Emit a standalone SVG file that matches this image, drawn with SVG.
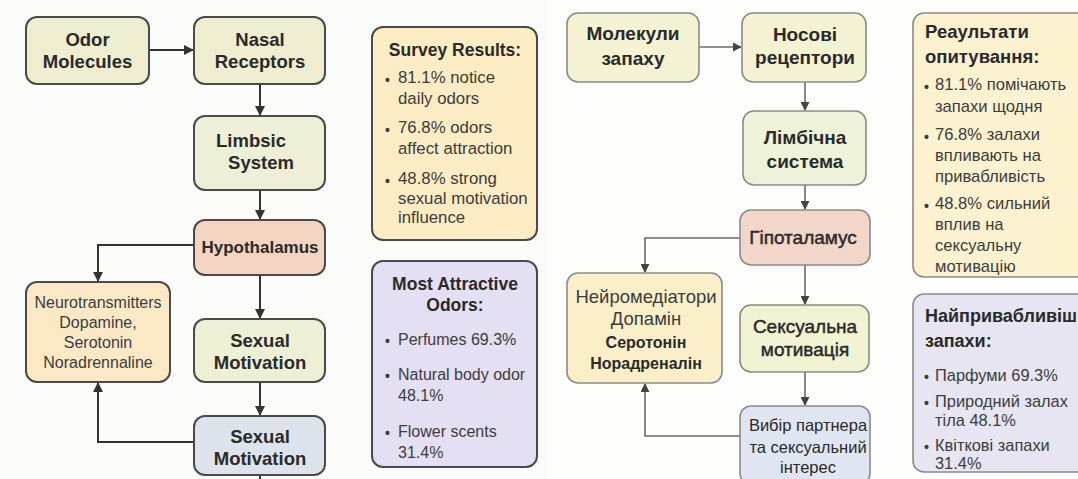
<svg xmlns="http://www.w3.org/2000/svg" width="1078" height="479" viewBox="0 0 1078 479">
<defs>
<marker id="ah" viewBox="0 0 10 10" refX="9" refY="5" markerWidth="10" markerHeight="10" markerUnits="userSpaceOnUse" orient="auto"><path d="M0,0 L10,5 L0,10 z" fill="#333"/></marker>
<marker id="ah2" viewBox="0 0 10 10" refX="9" refY="5" markerWidth="9" markerHeight="9" markerUnits="userSpaceOnUse" orient="auto"><path d="M0,0 L10,5 L0,10 z" fill="#444"/></marker>
<style>
.n{stroke:#4a4a4a;stroke-width:2}
.m{stroke:#8a8a8a;stroke-width:1.6}
.t{font-family:"Liberation Sans",Arial,sans-serif;fill:#2a2a2a}
.b{font-weight:700}
.c{text-anchor:middle}
.md{stroke:#2a2a2a;stroke-width:0.45}
.g{fill:#3c3c3c}
.d{font-size:14px;font-weight:700}
.l1{fill:none;stroke:#333;stroke-width:2;marker-end:url(#ah)}
.l2{fill:none;stroke:#6a6a6a;stroke-width:1.6;marker-end:url(#ah2)}
</style>
</defs>
<rect width="1078" height="479" fill="#fbfbf9"/>
<rect x="545" width="533" height="479" fill="#fdfdfc"/>

<g id="connectors">
<path class="l1" d="M149,50 H193"/>
<path class="l1" d="M260,84 V115"/>
<path class="l1" d="M260,190 V219"/>
<path class="l1" d="M194,245 H98 V281"/>
<path class="l1" d="M260,275 V318"/>
<path class="l1" d="M260,382 V415"/>
<path class="l1" d="M194,442 H98 V383"/>
<path d="M260,475 V479" stroke="#333" stroke-width="2"/>
<path class="l2" d="M699,47 H741"/>
<path class="l2" d="M805,82 V110"/>
<path class="l2" d="M805,185 V209"/>
<path class="l2" d="M740,238 H645 V272"/>
<path class="l2" d="M805,265 V304"/>
<path class="l2" d="M805,372 V405"/>
<path class="l2" d="M740,436 H645 V384"/>
</g>

<g id="odor-molecules">
<rect class="n" x="26" y="17" width="123" height="67" rx="11" fill="#eeedcf"/>
<text class="t b c" x="87.5" y="46" font-size="18.5">Odor</text>
<text class="t b c" x="87.5" y="68" font-size="18.5">Molecules</text>
</g>
<g id="nasal-receptors">
<rect class="n" x="194" y="17" width="131" height="67" rx="11" fill="#eeedcf"/>
<text class="t b c" x="260" y="46" font-size="18.5">Nasal</text>
<text class="t b c" x="260" y="68" font-size="18.5">Receptors</text>
</g>
<g id="limbsic-system">
<rect class="n" x="194" y="116" width="131" height="74" rx="11" fill="#edf0d6"/>
<text class="t b c" x="251" y="147" font-size="18.5">Limbsic</text>
<text class="t b c" x="261" y="169" font-size="18.5">System</text>
</g>
<g id="hypothalamus">
<rect class="n" x="194" y="220" width="131" height="55" rx="11" fill="#f2d4c1"/>
<text class="t b c" x="260" y="253" font-size="17">Hypothalamus</text>
</g>
<g id="neurotransmitters">
<rect class="n" x="26" y="282" width="144" height="100" rx="11" fill="#fbe9c6"/>
<text class="t g c" x="98" y="308" font-size="16">Neurotransmitters</text>
<text class="t g c" x="98" y="328" font-size="16">Dopamine,</text>
<text class="t g c" x="98" y="348" font-size="16">Serotonin</text>
<text class="t g c" x="98" y="368" font-size="16">Noradrennaline</text>
</g>
<g id="sexual-motivation">
<rect class="n" x="194" y="319" width="131" height="63" rx="11" fill="#eef0d5"/>
<text class="t b c" x="260" y="347" font-size="18.5">Sexual</text>
<text class="t b c" x="260" y="369" font-size="18.5">Motivation</text>
</g>
<g id="sexual-motivation-2">
<rect class="n" x="194" y="416" width="131" height="59" rx="11" fill="#dde3ea"/>
<text class="t b c" x="260" y="443" font-size="18.5">Sexual</text>
<text class="t b c" x="260" y="465" font-size="18.5">Motivation</text>
</g>
<g id="survey-results">
<rect class="n" x="372" y="27" width="165" height="213" rx="11" fill="#fbecc3"/>
<text class="t b c" x="455" y="56" font-size="17.5">Survey Results:</text>
<g class="t g" font-size="16.8">
<text class="d" x="385" y="85">•</text><text x="398" y="83">81.1% notice</text>
<text x="398" y="104">daily odors</text>
<text class="d" x="385" y="135">•</text><text x="398" y="133">76.8% odors</text>
<text x="398" y="154">affect attraction</text>
<text class="d" x="385" y="186">•</text><text x="398" y="184">48.8% strong</text>
<text x="398" y="204">sexual motivation</text>
<text x="398" y="223">influence</text>
</g>
</g>
<g id="most-attractive-odors">
<rect class="n" x="372" y="261" width="165" height="206" rx="11" fill="#e4dff3"/>
<text class="t b c" x="455" y="290" font-size="17.5">Most Attractive</text>
<text class="t b c" x="455" y="311" font-size="17.5">Odors:</text>
<g class="t g" font-size="16">
<text class="d" x="385" y="346">•</text><text x="398" y="345">Perfumes 69.3%</text>
<text class="d" x="385" y="381">•</text><text x="398" y="380">Natural body odor</text>
<text x="398" y="401">48.1%</text>
<text class="d" x="385" y="438">•</text><text x="398" y="437">Flower scents</text>
<text x="398" y="458">31.4%</text>
</g>
</g>

<g id="molekuly-zapakhu">
<rect class="m" x="567" y="13" width="132" height="69" rx="11" fill="#f3f2d3"/>
<text class="t b c" x="633" y="40" font-size="19">Молекули</text>
<text class="t b c" x="633" y="65" font-size="19">запаху</text>
</g>
<g id="nosovi-retseptory">
<rect class="m" x="742" y="13" width="124" height="69" rx="11" fill="#f3f2d3"/>
<text class="t b c" x="805" y="41" font-size="19">Носові</text>
<text class="t b c" x="805" y="64" font-size="19">рецептори</text>
</g>
<g id="limbichna-systema">
<rect class="m" x="743" y="111" width="123" height="74" rx="11" fill="#eef2d8"/>
<text class="t b c" x="805" y="144" font-size="19">Лімбічна</text>
<text class="t b c" x="805" y="168" font-size="19">система</text>
</g>
<g id="hipotalamus">
<rect class="m" x="740" y="210" width="130" height="55" rx="11" fill="#f1d6c9"/>
<text class="t md c" x="803" y="244" font-size="19">Гіпоталамус</text>
</g>
<g id="neiromediatory">
<rect class="m" x="567" y="273" width="155" height="110" rx="11" fill="#fbefc9"/>
<text class="t g c" x="646" y="303" font-size="18.5">Нейромедіатори</text>
<text class="t g c" x="646" y="325" font-size="18.5">Допамін</text>
<text class="t b c" x="646" y="348" font-size="16">Серотонін</text>
<text class="t b c" x="646" y="369" font-size="16">Норадреналін</text>
</g>
<g id="seksualna-motyvatsiia">
<rect class="m" x="740" y="305" width="129" height="67" rx="11" fill="#f2f3d2"/>
<text class="t md c" x="805" y="333" font-size="19">Сексуальна</text>
<text class="t md c" x="805" y="356" font-size="19">мотивація</text>
</g>
<g id="vybir-partnera">
<rect class="m" x="740" y="406" width="130" height="78" rx="11" fill="#dfe6f1"/>
<text class="t c" x="808" y="431" font-size="16.5">Вибір партнера</text>
<text class="t c" x="808" y="453" font-size="16.5">та сексуальний</text>
<text class="t c" x="808" y="473" font-size="16.5">інтерес</text>
</g>
<g id="rezultaty-opytuvannia">
<rect class="m" x="913" y="13" width="180" height="264" rx="11" fill="#fcf2cf"/>
<text class="t b" x="925" y="38" font-size="18.5">Реаультати</text>
<text class="t b" x="925" y="63" font-size="18.5">опитування:</text>
<g class="t g" font-size="16.6">
<text class="d" x="924" y="92">•</text><text x="935" y="90">81.1% помічають</text>
<text x="935" y="112">запахи щодня</text>
<text class="d" x="924" y="142">•</text><text x="935" y="140">76.8% залахи</text>
<text x="935" y="161">впливають на</text>
<text x="935" y="182">привабливість</text>
<text class="d" x="924" y="211">•</text><text x="935" y="209">48.8% сильний</text>
<text x="935" y="230">вплив на</text>
<text x="935" y="251">сексуальну</text>
<text x="935" y="272">мотивацію</text>
</g>
</g>
<g id="naiprivablyvishi-zapakhy">
<rect class="m" x="913" y="294" width="180" height="178" rx="11" fill="#e6e5f1"/>
<text class="t b" x="925" y="322" font-size="18">Найпривабливіш</text>
<text class="t b" x="925" y="347" font-size="18">запахи:</text>
<g class="t g" font-size="16.4">
<text class="d" x="924" y="382">•</text><text x="935" y="381">Парфуми 69.3%</text>
<text class="d" x="924" y="408">•</text><text x="935" y="407">Природний залах</text>
<text x="935" y="426">тіла 48.1%</text>
<text class="d" x="924" y="452">•</text><text x="935" y="451">Квіткові запахи</text>
<text x="935" y="469">31.4%</text>
</g>
</g>
</svg>
